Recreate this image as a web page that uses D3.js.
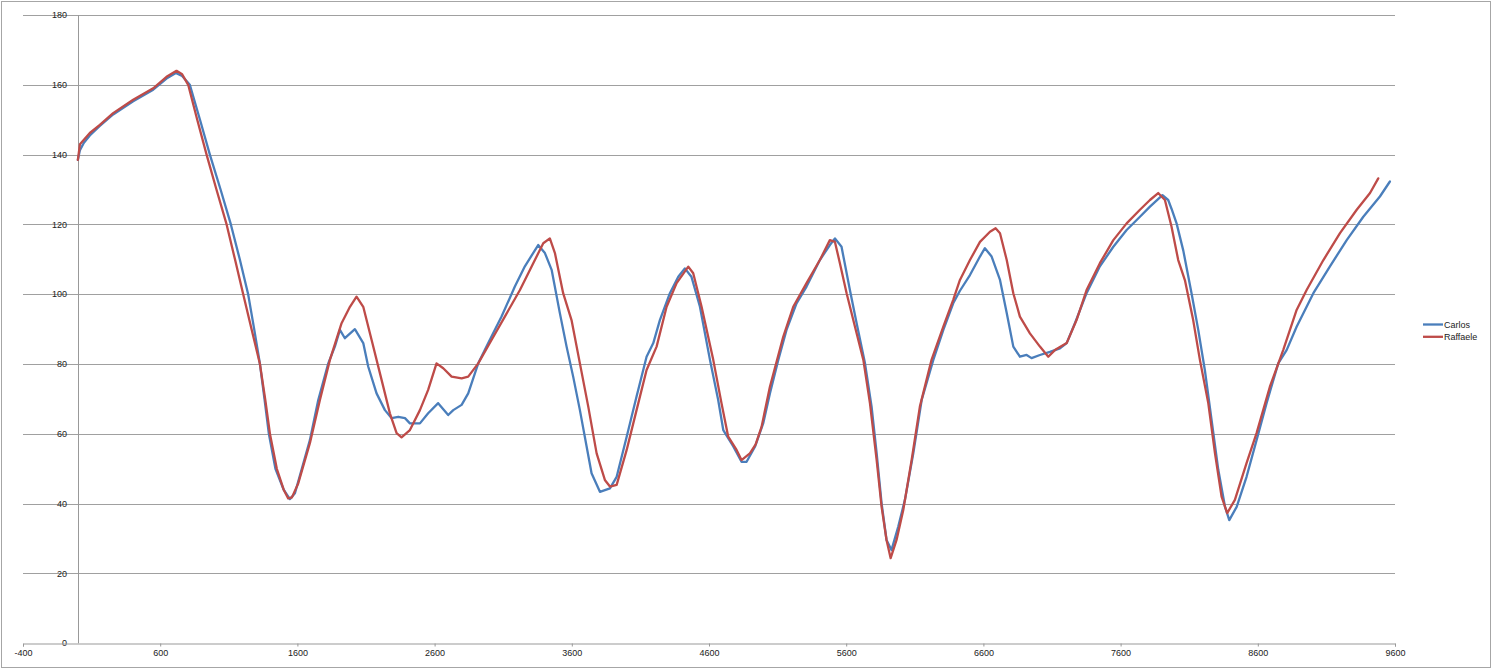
<!DOCTYPE html>
<html>
<head>
<meta charset="utf-8">
<script src="https://cdn.jsdelivr.net/npm/d3@7"></script>
<style>
  html, body { margin: 0; padding: 0; background: #fff; }
  svg text { font-family: "Liberation Sans", Arial, sans-serif; font-size: 9px; fill: #222; }
</style>
</head>
<body>
<svg id="chart" width="1494" height="670"></svg>
<script>
// ---- data ----
const seriesNames = ["Carlos", "Raffaele"];
const seriesColors = ["#4a7ebb", "#be4b48"];

const carlosX = [0,15,44,87,160,257,403,549,646,714,760,816,890,962,1040,1115,1180,1241,1285,1327,1360,1392,1440,1500,1545,1582,1691,1752,1825,1873,1910,1946,2019,2080,2116,2177,2238,2287,2335,2384,2420,2493,2553,2626,2699,2736,2797,2845,2918,2991,3088,3185,3258,3355,3404,3453,3513,3562,3610,3659,3708,3744,3805,3878,3927,4000,4072,4145,4194,4242,4315,4376,4424,4472,4534,4607,4667,4704,4777,4837,4874,4935,4995,5044,5105,5165,5238,5311,5408,5481,5518,5566,5627,5676,5737,5785,5822,5858,5894,5930,5979,6028,6089,6150,6235,6308,6380,6429,6502,6575,6611,6660,6721,6770,6818,6866,6915,6951,7012,7085,7158,7207,7267,7352,7449,7547,7644,7741,7814,7905,7947,7971,8008,8057,8117,8166,8214,8263,8312,8361,8392,8446,8518,8591,8664,8749,8810,8883,9005,9126,9248,9369,9490,9563];
const carlosY = [138.5,141.3,143.4,145.5,148.2,151.5,155.3,158.6,161.8,163.4,162.5,160,150,140,130,120,110,100,90,80,70,60,50,44,41.3,43,58.2,69.7,80.2,85,89.8,87.4,90,86,79.3,71.6,66.8,64.5,64.9,64.5,63,63,65.9,68.8,65.4,66.8,68.3,71.6,80.2,86,93.6,102.2,108,114.1,111.8,107,94.6,85,76.4,66.8,56.4,48.7,43.4,44.4,47.7,59.2,70.7,82.1,86,92.6,100.3,105,107.4,105,96.4,81.2,69.7,61.1,56.4,52,52,56.3,63,71.6,81.2,89.8,97.4,102.2,109.8,114.1,116,113.6,101.2,91.7,80.2,67.8,54.4,40.1,29.6,26.7,33.4,41.1,54.4,69.7,81.2,89.8,97.4,101,105.5,110.8,113.2,110.8,104.1,94.6,85,82.1,82.6,81.7,82.6,83.5,84.5,86,91.7,100.3,108,113.6,118.4,122.2,125.1,128.4,127,124.5,120.3,112.5,100.3,89.8,78.3,64,49.7,39.1,35.3,39.1,47.7,58.2,68.8,80.2,84,90.7,100.3,108,115.5,122.2,128,132.3];

const raffaeleX = [0,15,87,160,257,403,549,646,719,760,804,870,938,1010,1084,1145,1205,1266,1327,1365,1400,1450,1500,1533,1560,1606,1691,1764,1837,1922,1983,2031,2080,2141,2214,2274,2323,2359,2420,2493,2553,2614,2663,2724,2797,2845,2918,3015,3112,3222,3319,3392,3440,3477,3537,3598,3659,3720,3781,3841,3878,3927,4000,4072,4145,4218,4291,4364,4449,4485,4546,4631,4691,4740,4801,4837,4898,4940,4983,5044,5141,5214,5311,5408,5481,5518,5554,5603,5664,5725,5773,5822,5858,5894,5924,5967,6016,6077,6137,6222,6308,6380,6429,6502,6575,6648,6689,6721,6770,6818,6866,6939,7012,7073,7121,7207,7279,7352,7449,7547,7644,7741,7814,7874,7923,7971,8020,8069,8129,8178,8239,8288,8336,8377,8433,8518,8591,8688,8785,8883,8956,9078,9199,9321,9418,9478];
const raffaeleY = [138.5,143,146.2,148.5,151.9,155.7,159,162.3,164,163,160,150,140,130,120,110,100,90,80,70,60,50,44,41.5,41.8,45.8,57.3,69.7,81.2,91.7,96.4,99.3,96.4,86.9,75.4,65.9,60.2,59,61.1,66.8,72.6,80.2,78.8,76.4,75.9,76.4,80.2,86.9,93.6,101.2,108.9,114.6,116,111.8,100.3,92.6,80.2,67.8,54.4,46.8,44.9,45.4,55.4,66.8,78.3,85,96.4,103.2,107.9,106,96.4,81.2,68.8,59.2,55.4,52.5,54.4,57,62,73.5,87.8,96.4,103.2,109.8,115.5,115,108.9,100.3,90.7,81.2,68.8,52.5,39.1,29.6,24.4,29.6,38.2,52.5,67.8,81.2,90.7,98.4,104.1,109.8,115,117.9,118.9,117.5,109.8,100.3,93.6,88.8,85,82.1,84,86,92.6,101.2,108.9,115.5,120.3,124.2,127,129,127,119.4,109.8,104,92.6,81.2,68.8,54.4,42,37.3,41.1,51.6,60.2,73.5,84,95.5,101.2,109.8,117.5,124.2,129,133.2];

const xTicks = [-400, 600, 1600, 2600, 3600, 4600, 5600, 6600, 7600, 8600, 9600];
const yTicks = [0, 20, 40, 60, 80, 100, 120, 140, 160, 180];

// ---- drawing ----
const svg = d3.select("#chart");
svg.append("rect").attr("x", 0).attr("y", 0).attr("width", 1494).attr("height", 670).attr("fill", "#fff");
svg.append("rect").attr("x", 1.5).attr("y", 1.5).attr("width", 1489).attr("height", 666)
  .attr("fill", "none").attr("stroke", "#a6a6a6").attr("stroke-width", 1);

const x = d3.scaleLinear().domain([-400, 9600]).range([23, 1395]);
const y = d3.scaleLinear().domain([0, 180]).range([643.3, 15]);

// gridlines
svg.append("g").selectAll("line").data(yTicks.filter(d => d > 0)).join("line")
  .attr("x1", x(-400)).attr("x2", x(9600))
  .attr("y1", d => Math.round(y(d)) + 0.5).attr("y2", d => Math.round(y(d)) + 0.5)
  .attr("stroke", "#a0a0a0").attr("stroke-width", 1);

// y axis line (at x = 0)
svg.append("line").attr("x1", Math.round(x(0)) + 0.5).attr("x2", Math.round(x(0)) + 0.5)
  .attr("y1", y(180)).attr("y2", y(0)).attr("stroke", "#999").attr("stroke-width", 1);

// y tick labels
svg.append("g").selectAll("text").data(yTicks).join("text")
  .attr("x", 67).attr("y", d => y(d)).attr("dy", "0.35em")
  .attr("text-anchor", "end").text(d => d);

// x axis using d3.axisBottom
const xAxis = d3.axisBottom(x).tickValues(xTicks).tickSize(3).tickFormat(d3.format("d"));
const gx = svg.append("g").attr("transform", `translate(0,${Math.round(y(0)) + 0.5})`).call(xAxis);
gx.select(".domain").attr("stroke", "#999");
gx.selectAll(".tick line").attr("stroke", "#999");
gx.selectAll(".tick text").attr("dy", "0.6em").attr("y", 7)
  .style("font-family", "'Liberation Sans', Arial, sans-serif").style("font-size", "9px").attr("fill", "#222")
  .text(d => d < 0 ? "-" + Math.abs(d) : d);

// lines
const line = d3.line().x(d => x(d[0])).y(d => y(d[1])).curve(d3.curveLinear);
const series = [
  d3.zip(carlosX, carlosY),
  d3.zip(raffaeleX, raffaeleY)
];
series.forEach((s, i) => {
  svg.append("path").datum(s).attr("d", line)
    .attr("fill", "none").attr("stroke", seriesColors[i])
    .attr("stroke-width", 2.3).attr("stroke-linejoin", "round").attr("stroke-linecap", "round");
});

// legend
const legend = svg.append("g");
seriesNames.forEach((name, i) => {
  const ly = 324.5 + i * 12.3;
  legend.append("line").attr("x1", 1423).attr("x2", 1443).attr("y1", ly).attr("y2", ly)
    .attr("stroke", seriesColors[i]).attr("stroke-width", 2.3);
  legend.append("text").attr("x", 1444).attr("y", ly).attr("dy", "0.35em").text(name);
});
</script>
</body>
</html>
